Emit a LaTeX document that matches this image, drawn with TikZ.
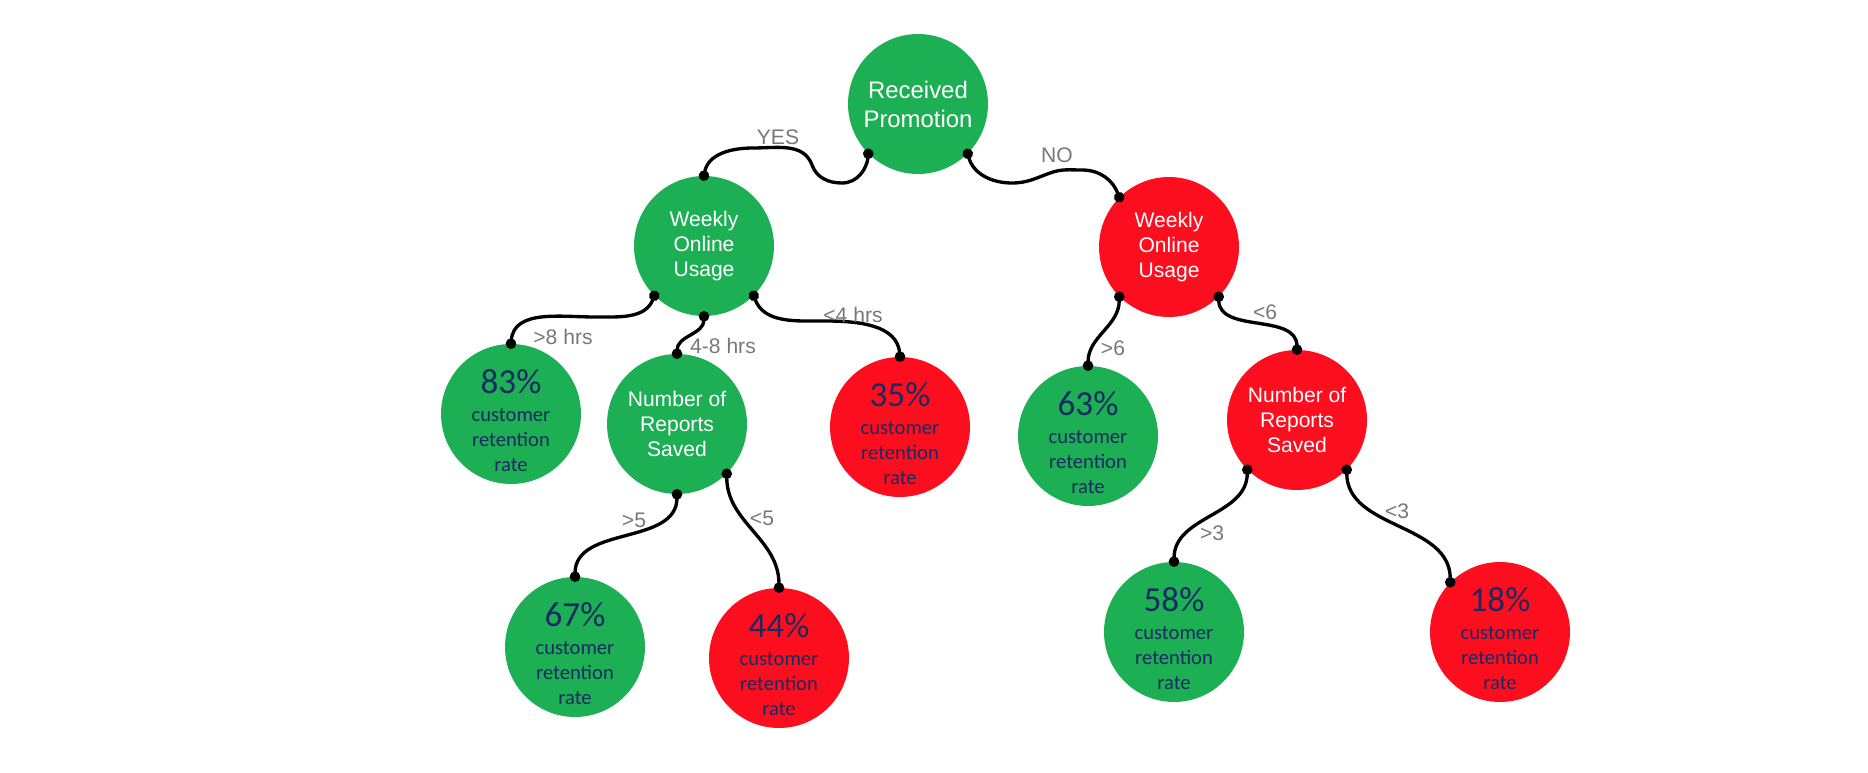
\documentclass[tikz,border=0pt]{standalone}
\usepackage{fontspec}
\setmainfont{Liberation Sans}
\newfontfamily\calib{Carlito}
\usetikzlibrary{arrows.meta}
\definecolor{leafgreen}{RGB}{29,175,84}
\definecolor{leafred}{RGB}{252,14,30}
\definecolor{ratenavy}{RGB}{26,42,98}
\definecolor{labelgray}{RGB}{120,120,120}
\newcommand{\retention}[1]{{\fontsize{20}{20}\selectfont\rule{0pt}{21pt}#1\%}\\[2pt]customer\\retention\\rate}

\begin{document}
\begin{tikzpicture}[x=0.02cm,y=0.02cm,
    decision/.style={circle,minimum size=2.8cm,inner sep=0pt,align=center,text=white,
      font=\fontsize{12}{14.2}\selectfont},
    greenbox/.style={decision,fill=leafgreen},
    redbox/.style={decision,fill=leafred},
    leaf/.style={circle,minimum size=2.8cm,inner sep=0pt,align=center,text=ratenavy,
      font=\calib\fontsize{11.7}{14.2}\selectfont},
    branch/.style={line width=1.9pt,{Circle[length=5.9pt]}-{Circle[length=5.9pt]},
      shorten <=-2.95pt,shorten >=-2.95pt},
    split/.style={text=labelgray,inner sep=0pt,font=\fontsize{12}{14}\selectfont}]
  \useasboundingbox (0,0) rectangle (1868,772);

  \node[greenbox,font=\fontsize{13.6}{16.5}\selectfont] (root) at (918,668) {Received\\Promotion};
  \node[greenbox] (wl) at (704,526) {Weekly\\Online\\Usage};
  \node[redbox] (wr) at (1169,525) {Weekly\\Online\\Usage};
  \node[greenbox] (nl) at (677,348) {Number of\\Reports\\Saved};
  \node[redbox] (nr) at (1297,352) {Number of\\Reports\\Saved};

  \node[leaf,fill=leafgreen] (r83) at (511,358) {\retention{83}};
  \node[leaf,fill=leafred] (r35) at (900,345) {\retention{35}};
  \node[leaf,fill=leafgreen] (r63) at (1088,336) {\retention{63}};
  \node[leaf,fill=leafgreen] (r67) at (575,125) {\retention{67}};
  \node[leaf,fill=leafred] (r44) at (779,114) {\retention{44}};
  \node[leaf,fill=leafgreen] (r58) at (1174,140) {\retention{58}};
  \node[leaf,fill=leafred] (r18) at (1500,140) {\retention{18}};

  \draw[branch] (root.-135) to[out=-95,in=0] (842,589) to[out=180,in=-70] (812,607)
    to[out=110,in=0] (753,624) to[out=180,in=80] (wl.90);
  \draw[branch] (root.-45) to[out=-75,in=180] (1012,589) to[out=0,in=200] (1050,599)
    to[out=20,in=180] (1082,602) to[out=0,in=110] (wr.135);
  \draw[branch] (wl.-135) to[out=-110,in=0] (595,455) to[out=180,in=85] (r83.90);
  \draw[branch] (wl.-90) to[out=-90,in=90] (nl.90);
  \draw[branch] (wl.-45) to[out=-70,in=180] (825,451) to[out=0,in=95] (r35.90);
  \draw[branch] (wr.-135) to[out=-90,in=90] (r63.90);
  \draw[branch] (wr.-45) to[out=-90,in=90] (nr.90);
  \draw[branch] (nl.-90) to[out=-90,in=90] (r67.90);
  \draw[branch] (nl.-45) to[out=-90,in=90] (r44.90);
  \draw[branch] (nr.-135) to[out=-90,in=90] (r58.90);
  \draw[branch] (nr.-45) to[out=-90,in=90] (r18.135);

  \node[split] (yes) at (778,635) {YES};
  \node[split] (no) at (1057,617) {NO};
  \node[split] (over8) at (563,435) {>8 hrs};
  \node[split] (mid48) at (723,426) {4-8 hrs};
  \node[split] (under4) at (853,457) {<4 hrs};
  \node[split] (over6) at (1113,424) {>6};
  \node[split] (under6) at (1265,460) {<6};
  \node[split] (over5) at (634,252) {>5};
  \node[split] (under5) at (762,254) {<5};
  \node[split] (over3) at (1212,239) {>3};
  \node[split] (under3) at (1397,261) {<3};
\end{tikzpicture}
\end{document}
